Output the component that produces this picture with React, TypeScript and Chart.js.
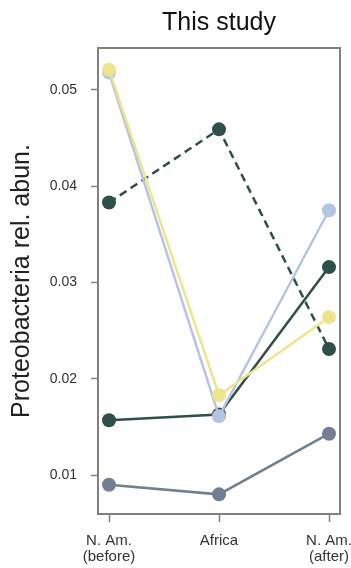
import React, { useEffect, useRef } from "react";
import { Chart, registerables } from "chart.js";

Chart.register(...registerables);

const categories: string[][] = [["N. Am.", "(before)"], ["Africa"], ["N. Am.", "(after)"]];
const yTicks: number[] = [0.01, 0.02, 0.03, 0.04, 0.05];

const yellowSeries: number[] = [0.0521, 0.0183, 0.0264];
const blueSeries: number[] = [0.0518, 0.0161, 0.0375];
const darkDashedSeries: number[] = [0.0383, 0.0459, 0.0231];
const darkSolidSeries: number[] = [0.0157, 0.0163, 0.0316];
const slateSeries: number[] = [0.009, 0.008, 0.0143];

const FONT = "'Liberation Sans', Arial, sans-serif";

const toPoints = (arr: number[]) => arr.map((v, i) => ({ x: i, y: v }));

const boxPlugin = {
  id: "boxPlugin",
  afterDraw(chart: any) {
    const { ctx, chartArea } = chart;
    ctx.save();
    ctx.strokeStyle = "#808080";
    ctx.lineWidth = 2;
    ctx.strokeRect(chartArea.left, chartArea.top, chartArea.right - chartArea.left, chartArea.bottom - chartArea.top);
    ctx.fillStyle = "#111";
    ctx.font = `25px ${FONT}`;
    ctx.textAlign = "center";
    ctx.textBaseline = "alphabetic";
    ctx.fillText("This study", (chartArea.left + chartArea.right) / 2, 30);
    ctx.restore();
  },
};

export default function App() {
  const ref = useRef<HTMLCanvasElement | null>(null);
  useEffect(() => {
    document.body.style.margin = "0";
    if (!ref.current) return;
    const mk = (label: string, data: number[], color: string, dashed = false) => ({
      label,
      data: toPoints(data),
      borderColor: color,
      backgroundColor: color,
      pointBackgroundColor: color,
      pointBorderColor: color,
      borderWidth: 2.5,
      pointRadius: 7,
      pointBorderWidth: 0,
      borderDash: dashed ? [8, 5] : [],
      tension: 0,
    });
    const chart = new Chart(ref.current, {
      type: "line",
      data: {
        datasets: [
          mk("yellow", yellowSeries, "#efe48e"),
          mk("blue", blueSeries, "#b3c5e0"),
          mk("darkDashed", darkDashedSeries, "#2f4f4b", true),
          mk("darkSolid", darkSolidSeries, "#2f4f4b"),
          mk("slate", slateSeries, "#717f91"),
        ],
      },
      options: {
        animation: false,
        responsive: false,
        layout: { padding: { top: 48, right: 11, left: 0, bottom: 0 } },
        plugins: { legend: { display: false }, tooltip: { enabled: false }, title: { display: false } },
        scales: {
          x: {
            type: "linear",
            min: -0.1,
            max: 2.1,
            afterBuildTicks: (scale: any) => {
              scale.ticks = categories.map((_, i) => ({ value: i }));
            },
            afterFit: (scale: any) => {
              scale.height = 54;
              scale.paddingLeft = 0;
              scale.paddingRight = 0;
            },
            border: { display: false },
            grid: {
              display: true,
              drawOnChartArea: false,
              drawTicks: true,
              tickLength: 8,
              tickColor: "#808080",
              tickWidth: 1.5,
            },
            ticks: {
              padding: 11,
              maxRotation: 0,
              autoSkip: false,
              color: "#333",
              font: { family: FONT, size: 15, lineHeight: 1.07 },
              callback: (v: any) => categories[Math.round(Number(v))] ?? "",
            },
          },
          y: {
            type: "linear",
            min: 0.00596,
            max: 0.05435,
            afterBuildTicks: (scale: any) => {
              scale.ticks = yTicks.map((v) => ({ value: v }));
            },
            afterFit: (scale: any) => {
              scale.width = 98;
              scale.paddingTop = 0;
              scale.paddingBottom = 0;
            },
            border: { display: false },
            grid: {
              display: true,
              drawOnChartArea: false,
              drawTicks: true,
              tickLength: 7,
              tickColor: "#808080",
              tickWidth: 1.5,
            },
            ticks: {
              padding: 14,
              color: "#333",
              font: { family: FONT, size: 14 },
              callback: (v: any) => Number(v).toFixed(2),
            },
            title: {
              display: true,
              text: "Proteobacteria rel. abun.",
              color: "#222",
              font: { family: FONT, size: 25 },
              padding: { top: 7, bottom: 0 },
            },
          },
        },
      },
      plugins: [boxPlugin],
    } as any);
    return () => chart.destroy();
  }, []);
  return (
    <div style={{ width: 351, height: 568 }}>
      <canvas ref={ref} width={351} height={568} style={{ display: "block" }} />
    </div>
  );
}
